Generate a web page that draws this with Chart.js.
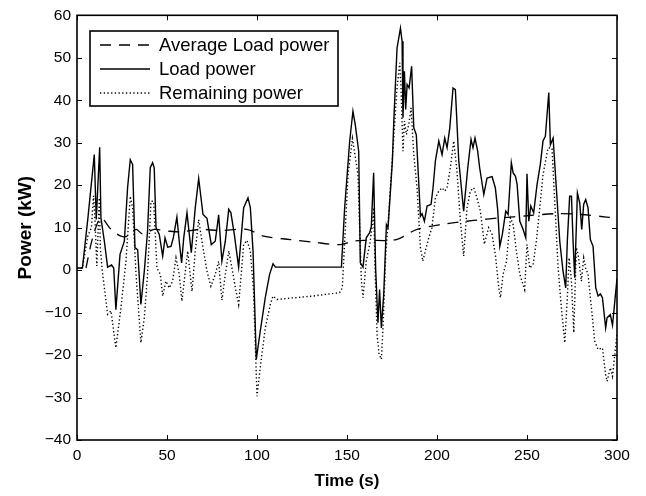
<!DOCTYPE html>
<html>
<head>
<meta charset="utf-8">
<script src="https://cdn.jsdelivr.net/npm/chart.js@4.4.1/dist/chart.umd.min.js"></script>
<style>
  html, body { margin: 0; padding: 0; background: #fff; }
  #wrap { width: 646px; height: 496px; }
</style>
</head>
<body>
<div id="wrap"><canvas id="grafico" width="646" height="496"></canvas></div>
<script>
// time (s) and power (kW)
const loadTime = [0, 3, 6, 9.6, 10.7, 12.6, 13.3, 15.2, 17, 19.2, 20.4, 21.6, 23.9, 26.3, 28.1, 29.6, 30.9, 32.2, 33.7, 35.5,
  37.4, 39.2, 40.7, 42, 42.9, 43.9, 45.7, 47.6, 48.9, 50.4, 52.2, 53.5, 55.5, 56.8, 58.1, 59.3, 61.1, 63.5, 65.7, 67.6,
  70, 72.2, 74.6, 76.8, 78.7, 80.5, 82.4, 84.3, 85.5, 87.4, 89.8, 92.6, 95, 96.3, 97.8, 99.6, 101.8, 104.6, 107, 108.9,
  110.2, 146.9, 148.7, 151.5, 153.3, 154.6, 156.5, 157.4, 158.9, 160.7, 162.6, 163.5, 164.8, 165.9, 167.2, 168.1, 169.1, 170.4, 171.9, 172.8,
  175.2, 176, 177.8, 179.7, 180.6, 181.1, 181.9, 182.6, 183.4, 184.5, 185.9, 187.1, 188.5, 190.8, 191.7, 193, 194.5, 196.7, 197.8, 199.1,
  201, 202.8, 204.3, 205.6, 207.1, 208.9, 210.2, 212.1, 214.8, 217.1, 218.9, 220, 221.1, 222.6, 223.7, 226, 227.8, 230.6, 232.4, 233.7,
  234.9, 236.3, 238.2, 239.5, 241.3, 242.3, 243.6, 244.5, 246, 247.8, 249.3, 250, 251, 252.1, 253.7, 255.6, 257.4, 258.9, 260.2, 262.1,
  263, 264.5, 268.2, 270, 271.5, 272.4, 273.7, 274.7, 275.6, 276.5, 278, 279.3, 280.4, 281.5, 282.6, 283.9, 285.2, 286.7, 288.2, 289.5,
  290.8, 291.9, 293.7, 294.5, 296.3, 297.5, 300];
const loadPower = [0.5, 0.5, 12, 27.2, 11.9, 28.9, 12.3, 6.8, 0.7, 1.2, 0.5, -9.3, 3.7, 6.8, 19.4, 26, 24.9, 5.3, 4.8, -8.1,
  -0.2, 9.2, 24.1, 25.3, 24.1, 10, 8.4, 3.3, 7.6, 5.4, 5.6, 7.6, 12.5, 6.8, 1.7, 7.6, 13.5, 4.1, 14.7, 21.6,
  13.1, 12.2, 6, 6.8, 13, 2.1, 6.8, 14.3, 13.5, 8.4, 0.7, 14.7, 17, 14.7, 4.5, -21, -14.4, -6.5, -1, 1.5,
  0.7, 0.7, 14.7, 30.4, 37.4, 34.2, 28, 1.7, 0.7, 7.6, 8.8, 10.3, 22.9, 0.5, -12.4, -4.6, -13.6, -5.7, 10.7, 10,
  25.6, 35.1, 52.3, 57, 53.9, 35.9, 46.8, 37.8, 43.7, 42.9, 48, 33.5, 31.9, 12.7, 13.3, 11.5, 15.1, 15.5, 19.4, 25.7,
  30.4, 27.2, 31.1, 28.8, 33.5, 42.9, 42.5, 25.7, 13.9, 24.1, 30.8, 28.8, 31.1, 28, 24.1, 17.8, 21.7, 22, 19.4, 14.3,
  5.6, 8.4, 13.9, 13.1, 25.3, 22.9, 22.1, 20.2, 11.5, 9.6, 7.6, 22.7, 11.5, 15.1, 13.5, 20.2, 24.9, 30.4, 31.5, 41.8,
  29.5, 31.1, 6.8, -0.2, -4.2, 6.8, 17.4, 17.4, 6.8, -1.8, 18.2, 15.8, 9.6, 15.5, 16.6, 14.7, 7.2, 5.6, -4.2, -6.1,
  -5.6, -6.5, -13.6, -11.2, -10.5, -13, -2];

const remTime = [0, 3, 6, 8, 9.2, 10, 11, 12.4, 13, 14, 17, 18.9, 21.6, 24.4, 27.2, 29.6, 30.9, 32.8, 35.5, 37.4,
  39.2, 41.1, 42.6, 44.4, 46.3, 47.6, 49.4, 51.3, 53.1, 55, 56.8, 58.3, 60.2, 61.5, 63.9, 65.7, 67.6, 69.4, 72.2, 74.4,
  76.8, 78.7, 80.5, 82.4, 84.3, 86.1, 88, 89.8, 92.6, 94.4, 96.3, 98.1, 100, 101.8, 104.6, 107.4, 108.9, 111.1, 131.1, 145.9,
  147.4, 148.7, 150.6, 153, 156.1, 158, 158.9, 160.7, 162.6, 164.1, 164.8, 165.6, 166.7, 167.8, 169.1, 170, 171.5, 172.8, 174.6, 177.8,
  179.3, 180, 181.1, 181.9, 183, 184.3, 185.6, 187.1, 188.9, 190.8, 192.1, 193.5, 195.4, 197.2, 199.1, 201, 202.8, 204.3, 205.6, 207.4,
  209.3, 211.1, 213, 214.8, 216.7, 218.5, 220.4, 222.2, 224.1, 226.3, 228.7, 230.6, 232.4, 234.3, 235.2, 236.7, 238.6, 240.8, 242.3, 244.1,
  246, 248.7, 250, 251.5, 253.4, 255.2, 257.1, 258.9, 261.7, 263.9, 265.4, 267.3, 269.1, 271, 272.3, 273.4, 274.7, 276, 277.4, 278.4,
  280.2, 281.5, 282.6, 283.9, 285.8, 287.6, 289.5, 291.9, 293.7, 294.5, 296.3, 297.5, 300];
const remPower = [0.5, 0.5, 8, 10, 17.5, 12, 1, 17, 5, 0, -10.4, -9.6, -18.3, -8.9, 2.1, 17.4, 14.7, -1, -17.1, -11.2,
  -1, 16.2, 16.2, 0.5, -1, -6.1, -2.6, -4.2, -2.6, 2.9, -1, -7.3, -0.2, 4.5, -5, 4.5, 11.9, 6.8, -0.2, -3.8,
  -1, 2.1, -7.1, -1, 4.5, 0.5, -4.2, -8.1, 6, 7, 4.5, -5, -29.7, -23, -13.6, -8.1, -6.1, -6.9, -6.1, -5.3,
  -4.2, 6.8, 22.5, 31, 22.5, -2.6, -6.5, 2.1, 6, 10.7, 14.7, 0.5, -15.1, -19.8, -21, -13.6, 3.7, 10.7, 22.5, 42.9,
  48.8, 42.9, 28, 35.1, 31.9, 34.3, 38.2, 27.2, 19.4, 5.3, 2.1, 4.5, 7.6, 10, 17, 18.6, 19.4, 18.6, 19.4, 24.1,
  30.4, 23.3, 11.5, 3.3, 14.7, 18.6, 19.4, 17, 13.9, 6.1, 10, 8.4, 3.7, -4.1, -6.5, -1, 2.1, 12.3, 10.7, 4.5,
  -1, -4.6, 6, 0.5, 1.3, 6.8, 14.7, 22.5, 28.8, 28.7, 16.2, 0.5, -8.9, -17.1, -7.3, 2.9, -2.6, -14.7, 5.3, 3.7,
  -2.6, 2.9, 0.5, -1, -8.9, -16.7, -18.7, -18.3, -24.6, -26.2, -23, -25, -15];

const avgTime = [5, 8.7, 13.3, 18.9, 24.4, 28.1, 32.8, 36.5, 42.9, 50.4, 57.8, 68.5, 79.6, 94.4, 103.7, 118.5, 131.1, 145.9, 153.3, 160.7,
  177.4, 188.9, 203.7, 220.4, 235.2, 250, 266.3, 280, 294.1, 300];
const avgPower = [0.5, 7.6, 12.3, 9.6, 8, 8, 9.6, 8.5, 9.6, 9.2, 9, 9.6, 9.3, 9.6, 8, 7.2, 6.6, 6, 6.8, 7,
  7.2, 9.6, 10.8, 11.7, 12.3, 12.8, 13.3, 13.1, 12.5, 12.2];

const xTicks = [0, 50, 100, 150, 200, 250, 300];
const yTicks = [-40, -30, -20, -10, 0, 10, 20, 30, 40, 50, 60];

const FONT = 'Liberation Sans, Arial, sans-serif';

function pts(t, v) {
  return t.map((x, i) => ({ x: x, y: v[i] }));
}

// box round the axes + inward tick marks, like matlab
const axesBox = {
  id: 'axesBox',
  afterDatasetsDraw(chart) {
    const ctx = chart.ctx;
    const a = chart.chartArea;
    const xs = chart.scales.x, ys = chart.scales.y;
    ctx.save();
    ctx.strokeStyle = '#000';
    ctx.lineWidth = 1.6;
    ctx.strokeRect(a.left, a.top, a.right - a.left, a.bottom - a.top);
    ctx.lineWidth = 1;
    ctx.beginPath();
    xTicks.forEach(v => {
      const p = Math.round(xs.getPixelForValue(v)) + 0.5;
      ctx.moveTo(p, a.bottom); ctx.lineTo(p, a.bottom - 5);
      ctx.moveTo(p, a.top); ctx.lineTo(p, a.top + 5);
    });
    yTicks.forEach(v => {
      const p = Math.round(ys.getPixelForValue(v)) + 0.5;
      ctx.moveTo(a.left, p); ctx.lineTo(a.left + 5, p);
      ctx.moveTo(a.right, p); ctx.lineTo(a.right - 5, p);
    });
    ctx.stroke();
    ctx.restore();
  }
};

// legend box in the upper left corner
const boxLegend = {
  id: 'boxLegend',
  afterDraw(chart) {
    const ctx = chart.ctx;
    const x0 = 90, y0 = 31, w = 248, h = 75;
    ctx.save();
    ctx.fillStyle = '#fff';
    ctx.fillRect(x0, y0, w, h);
    ctx.strokeStyle = '#000';
    ctx.lineWidth = 1.6;
    ctx.strokeRect(x0, y0, w, h);
    ctx.font = '18.5px ' + FONT;
    ctx.textBaseline = 'middle';
    chart.data.datasets.forEach((ds, i) => {
      const y = y0 + 14 + i * 24;
      ctx.beginPath();
      ctx.setLineDash(ds.borderDash || []);
      ctx.lineWidth = ds.borderWidth;
      ctx.moveTo(x0 + 10, y);
      ctx.lineTo(x0 + 60, y);
      ctx.stroke();
      ctx.setLineDash([]);
      ctx.fillStyle = '#000';
      ctx.fillText(ds.label, x0 + 69, y + 1);
    });
    ctx.restore();
  }
};

const chartData = {
  datasets: [
    {
      label: 'Average Load power',
      data: pts(avgTime, avgPower),
      borderColor: '#000',
      borderWidth: 1.3,
      borderDash: [11, 8],
      pointRadius: 0,
      tension: 0.3
    },
    {
      label: 'Load power',
      data: pts(loadTime, loadPower),
      borderColor: '#000',
      borderWidth: 1.4,
      pointRadius: 0,
      tension: 0
    },
    {
      label: 'Remaining power',
      data: pts(remTime, remPower),
      borderColor: '#000',
      borderWidth: 1.4,
      borderDash: [1.3, 2.4],
      pointRadius: 0,
      tension: 0
    }
  ]
};

const options = {
  responsive: false,
  animation: false,
  layout: { padding: { left: 14, right: 29, top: 15, bottom: 4 } },
  plugins: {
    legend: { display: false },
    tooltip: { enabled: false }
  },
  scales: {
    x: {
      type: 'linear',
      min: 0,
      max: 300,
      afterBuildTicks: s => { s.ticks = xTicks.map(v => ({ value: v })); },
      afterFit: s => { s.height = 52; },
      grid: { display: false, drawTicks: false },
      border: { display: false },
      ticks: { color: '#000', font: { family: FONT, size: 15.5 }, padding: 6, maxRotation: 0 },
      title: { display: true, text: 'Time (s)', color: '#000', font: { family: FONT, size: 17, weight: 'bold' }, padding: { top: 4, bottom: 0 } }
    },
    y: {
      min: -40,
      max: 60,
      afterBuildTicks: s => { s.ticks = yTicks.map(v => ({ value: v })); },
      afterFit: s => { s.width = 63; },
      grid: { display: false, drawTicks: false },
      border: { display: false },
      ticks: {
        color: '#000',
        font: { family: FONT, size: 15.5 },
        padding: 6,
        callback: v => String(v).replace('-', '\u2212')
      },
      title: { display: true, text: 'Power (kW)', color: '#000', font: { family: FONT, size: 19, weight: 'bold' }, padding: { top: 0, bottom: 4 } }
    }
  }
};

const myChart = new Chart(document.getElementById('grafico'), {
  type: 'line',
  data: chartData,
  options: options,
  plugins: [axesBox, boxLegend]
});
</script>
</body>
</html>
